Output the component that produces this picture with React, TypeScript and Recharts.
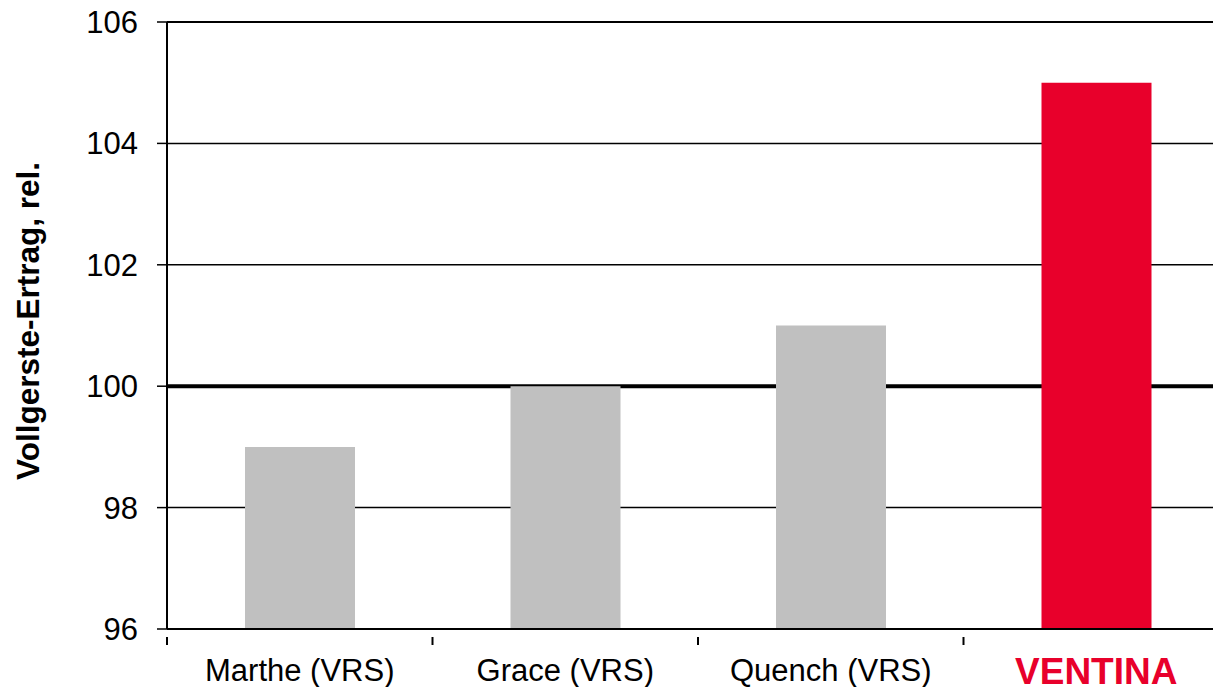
import { BarChart, Bar, XAxis, YAxis, CartesianGrid, Cell, Label } from 'recharts';

const varieties = ['Marthe (VRS)', 'Grace (VRS)', 'Quench (VRS)', 'VENTINA'];
const yieldRel = [99, 100, 101, 105];
const yTicks = [96, 98, 100, 102, 104, 106];
const highlight = 'VENTINA';

const data = varieties.map((name, i) => ({ name, value: yieldRel[i] }));

const FONT = '"Liberation Sans", Arial, sans-serif';
const RED = '#E8002B';
const GREY = '#C0C0C0';

function CategoryTick(props: any) {
    const { x, y, payload, width, visibleTicksCount } = props;
    const band = width / (visibleTicksCount || 4);
    const isHi = payload.value === highlight;
    return (
        <g>
            <line x1={x - band / 2} x2={x - band / 2} y1={y - 21} y2={y - 13} stroke="#000" strokeWidth={2} />
            <text
                x={x}
                y={isHi ? y + 26 : y + 23}
                textAnchor="middle"
                fontFamily={FONT}
                fontSize={isHi ? 37 : 31}
                fontWeight={isHi ? 'bold' : 'normal'}
                fill={isHi ? RED : '#000'}
            >
                {payload.value}
            </text>
        </g>
    );
}

export default function App() {
    return (
        <div style={{ position: 'absolute', left: 0, top: 0, width: 1213, height: 687, overflow: 'hidden', background: '#fff' }}>
            <BarChart width={1240} height={687} data={data} margin={{ top: 22, right: 11, left: 0, bottom: 0 }} barSize={110}>
                <CartesianGrid
                    vertical={false}
                    horizontal={(p: any) => (
                        <line
                            key={p.key ?? p.index}
                            x1={p.x1}
                            x2={p.x2}
                            y1={p.y1}
                            y2={p.y2}
                            stroke="#000"
                            strokeWidth={p.index === 2 ? 4 : p.index === 5 ? 2 : 1.5}
                        />
                    )}
                />
                <XAxis
                    dataKey="name"
                    height={58}
                    interval={0}
                    tickLine={false}
                    tickSize={8}
                    tickMargin={21}
                    axisLine={{ stroke: '#000', strokeWidth: 2 }}
                    tick={<CategoryTick />}
                />
                <YAxis
                    width={167}
                    domain={[96, 106]}
                    ticks={yTicks}
                    interval={0}
                    allowDataOverflow
                    tickSize={10}
                    tickMargin={19}
                    axisLine={{ stroke: '#000', strokeWidth: 2 }}
                    tickLine={{ stroke: '#000', strokeWidth: 1.5 }}
                    tick={{ fill: '#000', fontSize: 31, fontFamily: FONT }}
                >
                    <Label
                        content={() => (
                            <text
                                x={28}
                                y={321}
                                transform="rotate(-90, 28, 321)"
                                textAnchor="middle"
                                dominantBaseline="central"
                                fontFamily={FONT}
                                fontSize={31.5}
                                fontWeight="bold"
                                fill="#000"
                            >
                                Vollgerste-Ertrag, rel.
                            </text>
                        )}
                    />
                </YAxis>
                <Bar dataKey="value" isAnimationActive={false}>
                    {data.map((d) => (
                        <Cell key={d.name} fill={d.name === highlight ? RED : GREY} />
                    ))}
                </Bar>
            </BarChart>
        </div>
    );
}
